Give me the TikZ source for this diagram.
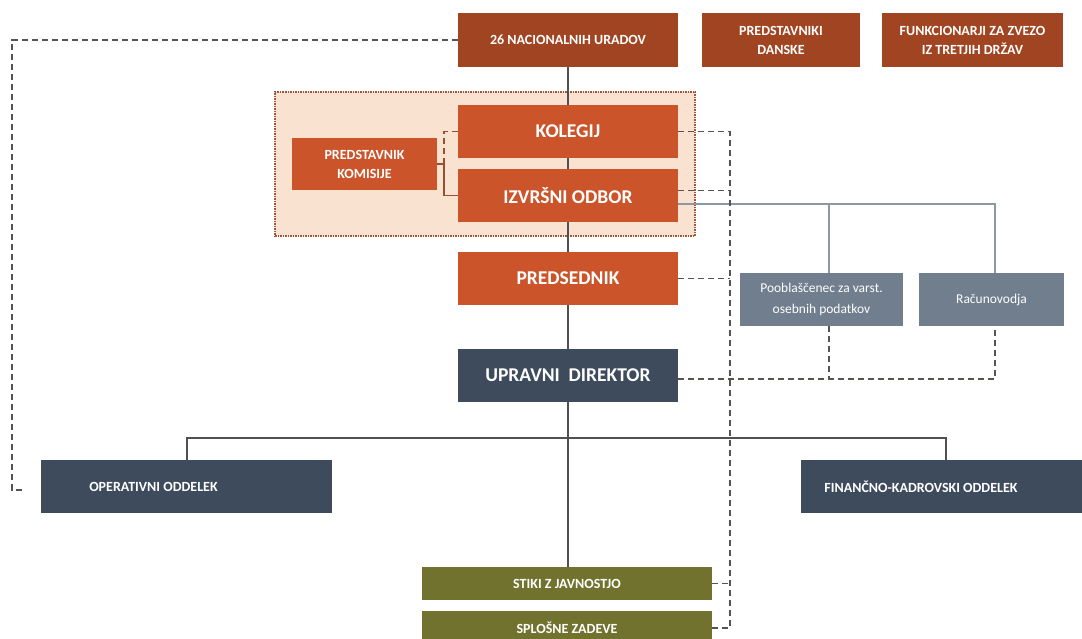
\documentclass[tikz,border=0pt]{standalone}
\usepackage{fontspec}
\setmainfont{Carlito}
\usetikzlibrary{calc}
\definecolor{rustdark}{RGB}{161,68,34}
\definecolor{rust}{RGB}{203,84,42}
\definecolor{peachfill}{RGB}{249,227,208}
\definecolor{peachline}{RGB}{160,85,55}
\definecolor{slate}{RGB}{62,75,92}
\definecolor{slatelight}{RGB}{112,126,142}
\definecolor{olive}{RGB}{113,114,46}
\definecolor{trunkc}{RGB}{80,80,80}
\definecolor{asstc}{RGB}{140,152,162}
\definecolor{dashc}{RGB}{85,85,80}
\definecolor{brownl}{RGB}{150,80,45}
\tikzset{
  boxbase/.style={rectangle, inner sep=0pt, text=white, align=center, font=\bfseries\fontsize{14}{19}\selectfont},
  topbox/.style={boxbase, fill=rustdark},
  orbox/.style={boxbase, fill=rust},
  bigtxt/.style={font=\bfseries\fontsize{19.5}{22}\selectfont},
  slatebox/.style={boxbase, fill=slate},
  lightbox/.style={boxbase, fill=slatelight, font=\fontsize{13.5}{21}\selectfont},
  olivebox/.style={boxbase, fill=olive},
  grpbox/.style={rectangle, inner sep=0pt, fill=peachfill, draw=peachline, line width=1.5pt, dash pattern=on 1.5pt off 1pt},
  trunk/.style={draw=trunkc, line width=2pt},
  asst/.style={draw=asstc, line width=1.8pt},
  dsh/.style={draw=dashc, line width=1.5pt, dash pattern=on 6pt off 4pt},
  brn/.style={draw=brownl, line width=1.5pt}
}
\begin{document}
\begin{tikzpicture}[x=1pt,y=-1pt]
\clip (0,0) rectangle (1082,639);
\useasboundingbox (0,0) rectangle (1082,639);
\fill[white] (0,0) rectangle (1082,639);

% group background
\node[grpbox, minimum width=420, minimum height=144] (grp) at (485,164) {};

% top row
\node[topbox, minimum width=220, minimum height=54] (nac) at (568,40) {26 NACIONALNIH URADOV};
\node[topbox, minimum width=158, minimum height=54] (dan) at (781,40.5) {PREDSTAVNIKI\\DANSKE};
\node[topbox, minimum width=181, minimum height=54] (fun) at (972.5,40.5) {FUNKCIONARJI ZA ZVEZO\\IZ TRETJIH DRŽAV};

% group
\node[orbox, bigtxt, minimum width=220, minimum height=53] (kol) at (568,131.5) {KOLEGIJ};
\node[orbox, bigtxt, minimum width=220, minimum height=53] (izv) at (568,195.5) {IZVRŠNI ODBOR};
\node[orbox, minimum width=145, minimum height=52] (pk) at (364.5,164) {PREDSTAVNIK\\KOMISIJE};

\node[orbox, bigtxt, minimum width=220, minimum height=53] (pred) at (568,278.5) {PREDSEDNIK};
\node[slatebox, bigtxt, minimum width=220, minimum height=53] (upr) at (568,375.5) {UPRAVNI\ \ DIREKTOR};

\node[lightbox, minimum width=163, minimum height=53] (poob) at (821.5,299.5) {Pooblaščenec za varst.\\osebnih podatkov};
\node[lightbox, minimum width=145, minimum height=53] (rac) at (991.5,299.5) {Računovodja};

\node[slatebox, minimum width=291, minimum height=53] (op) at (186.5,486.5) {OPERATIVNI ODDELEK\hspace*{66pt}};
\node[slatebox, minimum width=290, minimum height=53] (fin) at (946,486.5) {FINANČNO-KADROVSKI ODDELEK\hspace*{50pt}};

\node[olivebox, minimum width=290, minimum height=33] (sti) at (567,583.5) {STIKI Z JAVNOSTJO};
\node[olivebox, minimum width=290, minimum height=34] (spl) at (567,628) {SPLOŠNE ZADEVE};

% named helper coordinates
\coordinate (vx) at (730,0);
\coordinate (lx) at (12,0);
\coordinate (px) at (444,0);
\coordinate (a1) at (829,204);
\coordinate (a2) at (995,204);
\coordinate (d2) at (995,379);
\coordinate (hl) at (187,438);
\coordinate (hr) at (946,438);

% trunk
\draw[trunk] (nac.south) -- (kol.north);
\draw[trunk] (kol.south) -- (izv.north);
\draw[trunk] (izv.south) -- (pred.north);
\draw[trunk] (pred.south) -- (upr.north);
\draw[trunk] (upr.south) -- (upr.south |- sti.north);
\draw[trunk] (op.north -| hl) -- (hl) -- (hr) -- (hr |- fin.north);

% assistants
\draw[asst] ([yshift=-8.5pt]izv.east) -- (a2) -- (a2 |- rac.north);
\draw[asst] (a1) -- (a1 |- poob.north);

% commission representative
\draw[brn] (pk.east) -- (pk.east -| px) -- (px |- izv.west) -- (izv.west);
\draw[brn, dash pattern=on 6pt off 4pt] (pk.east -| px) -- (px |- kol.west) -- (kol.west);

% dashed links
\draw[dsh] (kol.east) -- (kol.east -| vx) -- (spl.east -| vx) -- (spl.east);
\draw[dsh] ([yshift=5pt]izv.east) -- ([yshift=5pt]izv.east -| vx);
\draw[dsh] (pred.east) -- (pred.east -| vx);
\draw[dsh] (sti.east) -- (sti.east -| vx);
\draw[dsh] ([yshift=-3.5pt]upr.east) -- (d2) -- (d2 |- rac.south);
\draw[dsh] (poob.south -| a1) -- (a1 |- d2);
\draw[dsh] (nac.west) -- (nac.west -| lx) -- ([yshift=-3.5pt]op.west -| lx) -- ([xshift=-17pt,yshift=-3.5pt]op.west);
\end{tikzpicture}
\end{document}
